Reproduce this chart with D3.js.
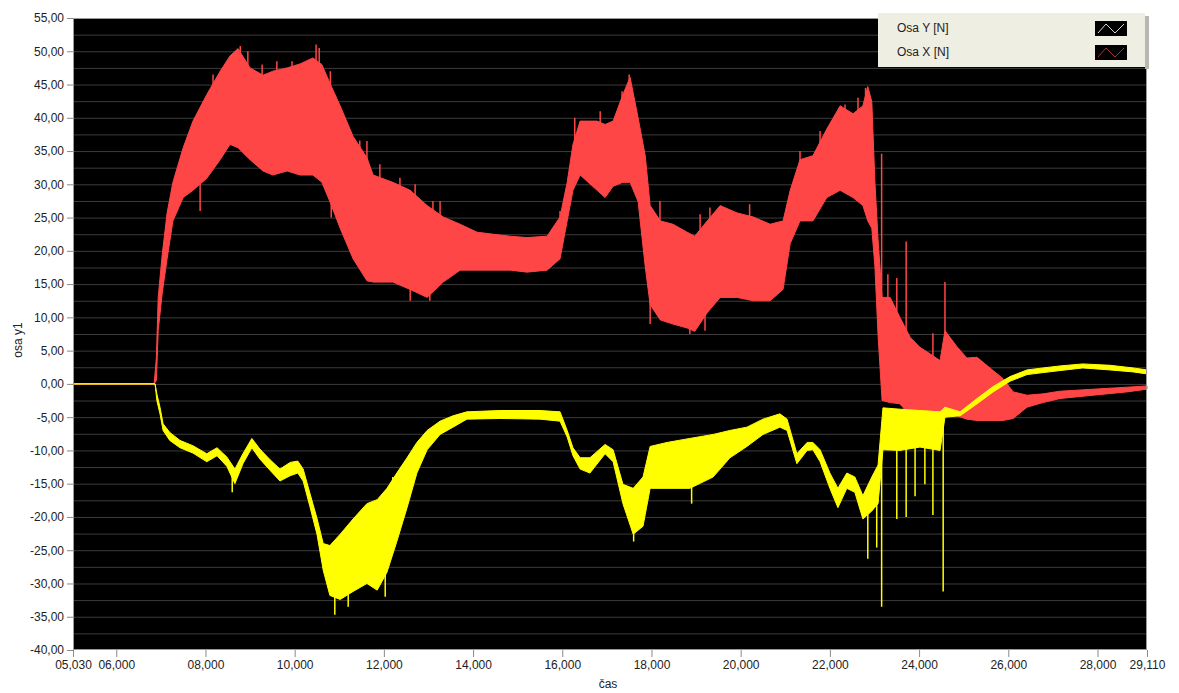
<!DOCTYPE html>
<html>
<head>
<meta charset="utf-8">
<script src="https://cdn.jsdelivr.net/npm/d3@7"></script>
<style>
  body { margin: 0; background: #fff; }
  svg { display: block; font-family: "Liberation Sans", Arial, sans-serif; }
  .axis text { font-size: 12px; fill: #222; }
  .axis path, .axis line { stroke: #8a8a8a; }
  .grid line { stroke: #3c3c3c; }
  .grid path { display: none; }
</style>
</head>
<body>
<svg width="1179" height="693"></svg>
<script>
// Osa X [N] (red) - band envelope
const timeX = [5.03, 6.85, 6.9, 6.94, 7.03, 7.14, 7.27, 7.5, 7.72, 8.03, 8.33, 8.55, 8.73, 9.0, 9.29, 9.51, 9.83, 10.12, 10.41, 10.61, 10.79, 11.02, 11.31, 11.62, 11.76, 12.2, 12.59, 12.97, 13.33, 13.71, 14.09, 14.45, 14.83, 15.21, 15.66, 15.95, 16.11, 16.24, 16.4, 16.78, 16.96, 17.14, 17.36, 17.52, 17.7, 17.86, 17.97, 18.2, 18.48, 18.8, 18.97, 19.25, 19.54, 19.92, 20.28, 20.66, 20.95, 21.11, 21.33, 21.62, 21.93, 22.23, 22.52, 22.74, 22.85, 22.94, 23.01, 23.08, 23.17, 23.35, 23.57, 23.8, 24.02, 24.25, 24.47, 24.58, 24.85, 25.07, 25.3, 25.66, 25.88, 26.11, 26.42, 26.78, 27.16, 27.9, 28.66, 29.11]
const xLow = [0, 0, 0.5, 8, 13.6, 18.8, 24.5, 28, 29.1, 30.9, 33.7, 36, 35.5, 33.7, 32, 31.4, 32, 31.4, 31.4, 30.3, 27.4, 23.4, 18.8, 15.5, 15.3, 15.3, 14.2, 13, 15.3, 17.1, 17.1, 17.1, 17.1, 16.8, 17.1, 18.8, 24.5, 29.1, 31.4, 29.1, 28, 29.7, 30.3, 30.3, 27.4, 17.6, 11.9, 9.6, 9, 8.4, 7.9, 10.7, 13, 13, 12.5, 12.5, 14.2, 21.1, 24.5, 24.5, 28, 29.1, 28, 26.8, 24.5, 23.4, 17.6, 7.3, -2.5, -2.8, -3, -4.8, -5.9, -7, -7.6, -4.2, -4.8, -5.3, -5.5, -5.5, -5.5, -5.2, -3.5, -2.8, -2.2, -1.7, -1.2, -0.8]
const xHigh = [0, 0, 4, 13, 19.4, 25.7, 30.3, 35.5, 39.5, 43.5, 47, 49.3, 50.4, 47.5, 46.4, 47, 47.5, 48.1, 49, 48, 45.2, 41.8, 37.2, 34, 31.4, 30.3, 29.1, 26.8, 25.1, 24, 22.8, 22.5, 22.2, 22, 22.2, 25.1, 30.3, 36, 39.5, 39.5, 39, 39.5, 43.5, 46.1, 40, 34.3, 26.8, 24.5, 24, 22.8, 22.2, 24.5, 26.8, 25.7, 25.1, 24, 24.5, 29.1, 33.7, 34.3, 38.3, 41.8, 40.6, 41.8, 44.7, 42.4, 30.3, 21.7, 13, 13, 10, 7, 5.5, 4.5, 3.5, 8, 5.6, 3.9, 4, 2, 0.8, -1.2, -1.7, -1.5, -1.1, -0.8, -0.5, -0.3]
// single peaks sticking out of the red band (time, value)
const xSpikeTime = [7.88, 8.17, 8.78, 8.95, 9.27, 9.6, 9.94, 10.48, 10.55, 10.8, 10.82, 11.13, 11.46, 11.62, 11.91, 12.36, 12.59, 12.7, 13.03, 13.1, 13.26, 15.95, 16.28, 16.85, 17.34, 17.5, 17.97, 18.19, 18.86, 19.09, 19.2, 19.31, 20.2, 21.33, 21.78, 22.34, 22.63, 22.8, 23.16, 23.3, 23.5, 23.71, 24.31, 24.58]
const xSpikeValue = [26, 46.5, 50.8, 50, 48, 48.5, 48.5, 51, 50.5, 47, 25, 40, 36.6, 36.5, 33, 31, 12.5, 30, 12.5, 27.5, 27.5, 26, 40, 41, 44, 46.5, 9, 27.5, 7.5, 25.5, 8, 26.5, 27, 35, 38, 42, 43, 44.5, 34.6, 16.5, 15.9, 21.4, 7.6, 15.3]

// Osa Y [N] (yellow)
const timeY = [5.03, 6.87, 6.91, 6.98, 7.05, 7.2, 7.43, 7.72, 8.03, 8.26, 8.48, 8.66, 8.84, 9.04, 9.22, 9.45, 9.67, 9.9, 10.07, 10.19, 10.34, 10.5, 10.64, 10.79, 11.02, 11.31, 11.62, 11.85, 12.07, 12.29, 12.52, 12.74, 12.97, 13.26, 13.55, 13.86, 14.6, 15.5, 15.95, 16.11, 16.24, 16.4, 16.62, 16.96, 17.14, 17.36, 17.59, 17.81, 17.97, 18.35, 18.86, 19.38, 19.76, 20.14, 20.5, 20.88, 21.04, 21.26, 21.49, 21.62, 21.78, 22.0, 22.18, 22.38, 22.56, 22.74, 22.94, 23.08, 23.19, 23.57, 24.02, 24.47, 24.58, 24.92, 25.3, 25.66, 26.04, 26.42, 26.78, 27.16, 27.67, 28.28, 28.8, 29.11]
const yLow = [0, 0, -2.5, -4.5, -7, -8.5, -9.6, -10.4, -11.7, -10.8, -12.4, -15, -12, -9.6, -11.3, -13, -14.6, -13.8, -13.4, -14.6, -18.4, -22.6, -28, -31.8, -32.4, -31.2, -30, -31, -28.3, -23.7, -18.6, -13.4, -9.9, -7.6, -6.5, -5.3, -5.2, -5.3, -5.6, -8, -10.8, -12.8, -13.4, -10.5, -11.7, -18, -22.6, -21.4, -15.7, -15.7, -15.7, -14, -11.1, -9.4, -7.6, -6.5, -7, -12, -10, -9.9, -11.7, -15.7, -18.6, -15.7, -16.3, -20.3, -19.1, -18, -9.9, -10, -9.5, -10, -5, -4.8, -3, -1.2, 0.4, 1.4, 1.7, 2, 2.4, 2.1, 1.8, 1.5]
const yHigh = [0, 0, -1.5, -3.5, -6, -7.3, -8.5, -9.3, -10.5, -9.6, -11, -12.8, -10.5, -8.2, -9.8, -11.4, -12.8, -11.8, -11.6, -12.8, -16.4, -20.2, -24, -24.3, -22.6, -20.3, -18, -17.4, -15.7, -13.4, -11.1, -8.8, -7, -5.6, -4.8, -4.2, -4, -4, -4.2, -7, -9.6, -11.1, -11.1, -9.1, -9.9, -15.1, -15.7, -14, -9.4, -8.8, -8.2, -7.6, -7, -6.5, -5.3, -4.5, -5.3, -10.5, -8.8, -8.8, -9.9, -13.4, -15.7, -13.4, -14, -16.8, -14, -12.2, -3.6, -3.8, -4, -4.2, -3.5, -4.2, -2.2, -0.4, 1.1, 2.1, 2.4, 2.7, 3, 2.8, 2.4, 2.1]
const ySpikeTime = [8.6, 10.9, 11.2, 11.5, 12.03, 12.2, 17.6, 18.9, 22.85, 23.05, 23.16, 23.5, 23.71, 23.91, 24.13, 24.31, 24.54]
const ySpikeValue = [-16.3, -34.7, -33.5, -20, -32, -14, -23.7, -18, -26.3, -24.6, -33.5, -20.3, -20, -16.9, -15.1, -19.7, -31.2]

// axis ticks
const xTicks = [5.03, 6, 8, 10, 12, 14, 16, 18, 20, 22, 24, 26, 28, 29.11]
const yTicks = [-40, -35, -30, -25, -20, -15, -10, -5, 0, 5, 10, 15, 20, 25, 30, 35, 40, 45, 50, 55]
const gridValues = d3.range(-37.5, 55, 2.5)

const legendNames = ['Osa Y [N]', 'Osa X [N]']
const legendLineColors = ['#d8d8d8', '#a03838']

const redColor = '#ff4646'
const yellowColor = '#ffff00'

const plotLeft = 73, plotRight = 1147, plotTop = 18, plotBottom = 650
const svg = d3.select('svg')

const xScale = d3.scaleLinear().domain([5.03, 29.11]).range([plotLeft, plotRight])
const yScale = d3.scaleLinear().domain([-40, 55]).range([plotBottom, plotTop])

const fmtX = t => (t < 10 ? '0' : '') + t.toFixed(3).replace('.', ',')
const fmtY = v => v.toFixed(2).replace('.', ',')

// plot background
svg.append('rect')
  .attr('x', plotLeft).attr('y', plotTop)
  .attr('width', plotRight - plotLeft).attr('height', plotBottom - plotTop)
  .attr('fill', '#000')

// horizontal grid
svg.append('g')
  .attr('class', 'grid')
  .attr('transform', `translate(${plotLeft},0)`)
  .call(d3.axisLeft(yScale).tickValues(gridValues).tickSize(-(plotRight - plotLeft)).tickFormat(''))

// bands
function drawBand(times, low, high, color) {
  const rows = times.map((t, i) => ({ t, lo: low[i], hi: high[i] }))
  const area = d3.area()
    .x(d => xScale(d.t))
    .y0(d => yScale(d.lo))
    .y1(d => yScale(d.hi))
  svg.append('path')
    .datum(rows)
    .attr('d', area)
    .attr('fill', color)
    .attr('stroke', color)
    .attr('stroke-width', 1)
    .attr('stroke-linejoin', 'round')
}

// spikes start from the middle of the band
function drawSpikes(times, values, baseTimes, low, high, color) {
  const mid = d3.scaleLinear().domain(baseTimes).range(low.map((v, i) => (v + high[i]) / 2))
  svg.append('g').selectAll('line')
    .data(times.map((t, i) => ({ t, v: values[i] })))
    .join('line')
    .attr('x1', d => xScale(d.t)).attr('x2', d => xScale(d.t))
    .attr('y1', d => yScale(mid(d.t)))
    .attr('y2', d => yScale(d.v))
    .attr('stroke', color)
    .attr('stroke-width', 1.5)
}

drawBand(timeX, xLow, xHigh, redColor)
drawSpikes(xSpikeTime, xSpikeValue, timeX, xLow, xHigh, redColor)
drawBand(timeY, yLow, yHigh, yellowColor)
drawSpikes(ySpikeTime, ySpikeValue, timeY, yLow, yHigh, yellowColor)

// frame
svg.append('rect')
  .attr('x', plotLeft + 0.5).attr('y', plotTop + 0.5)
  .attr('width', plotRight - plotLeft - 1).attr('height', plotBottom - plotTop - 1)
  .attr('fill', 'none').attr('stroke', '#9a9a9a')

// axes
svg.append('g')
  .attr('class', 'axis')
  .attr('transform', `translate(${plotLeft},0)`)
  .call(d3.axisLeft(yScale).tickValues(yTicks).tickFormat(fmtY).tickSize(6).tickPadding(3))
  .call(g => g.select('.domain').remove())

svg.append('g')
  .attr('class', 'axis')
  .attr('transform', `translate(0,${plotBottom})`)
  .call(d3.axisBottom(xScale).tickValues(xTicks).tickFormat(fmtX).tickSize(7).tickPadding(3))
  .call(g => g.select('.domain').remove())

// axis titles
svg.append('text')
  .attr('transform', 'translate(22,340) rotate(-90)')
  .attr('text-anchor', 'middle')
  .style('font-size', '12px').attr('fill', '#222')
  .text('osa y1')

svg.append('text')
  .attr('x', 608).attr('y', 688)
  .attr('text-anchor', 'middle')
  .style('font-size', '12px').attr('fill', '#222')
  .text('čas')

// legend
const legend = svg.append('g')
legend.append('rect')
  .attr('x', 1145).attr('y', 16).attr('width', 4).attr('height', 53)
  .attr('fill', '#b8b8b0')
legend.append('rect')
  .attr('x', 878).attr('y', 13).attr('width', 267).attr('height', 54)
  .attr('fill', '#efeee2')

const zig = d3.line()
legendNames.forEach((name, i) => {
  const y = 21 + i * 24
  legend.append('text')
    .attr('x', 897).attr('y', y + 11)
    .style('font-size', '12px').attr('fill', '#222')
    .text(name)
  legend.append('rect')
    .attr('x', 1095).attr('y', y).attr('width', 32).attr('height', 15)
    .attr('fill', '#000')
  legend.append('path')
    .attr('d', zig([[1098, y + 12], [1106, y + 3], [1115, y + 12], [1124, y + 3]]))
    .attr('fill', 'none')
    .attr('stroke', legendLineColors[i])
    .attr('stroke-width', 1)
})
</script>
</body>
</html>
